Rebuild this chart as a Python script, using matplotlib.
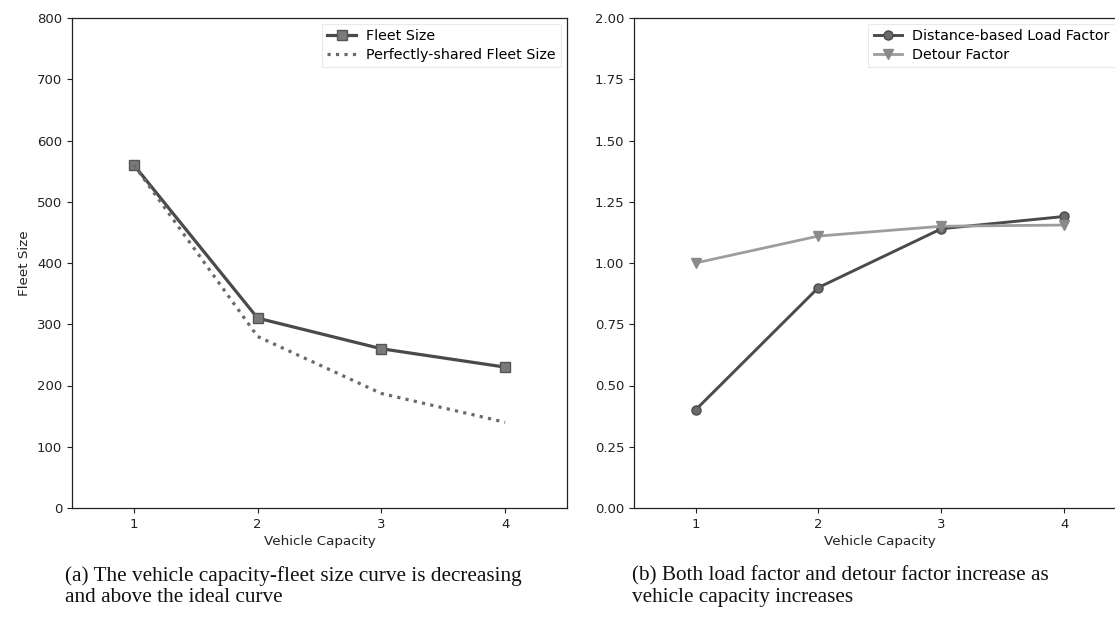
import matplotlib
matplotlib.use("Agg")
import matplotlib.pyplot as plt

# vehicle capacity on the x axis of both panels
capacity = [1, 2, 3, 4]

# (a) fleet size vs capacity
fleet_size = [560, 310, 260, 230]
ideal_fleet_size = [560, 280, 187, 140]

# (b) load and detour factors vs capacity
load_factor = [0.40, 0.90, 1.14, 1.19]
detour_factor = [1.00, 1.11, 1.15, 1.155]

captions = [
    "(a) The vehicle capacity-fleet size curve is decreasing\nand above the ideal curve",
    "(b) Both load factor and detour factor increase as\nvehicle capacity increases",
]

W, H = 1115, 628
fig = plt.figure(figsize=(W / 100, H / 100), dpi=100)
plt.rcParams["font.family"] = "DejaVu Sans"


def px_axes(x0, x1, y0, y1):
    return fig.add_axes([x0 / W, 1 - y1 / H, (x1 - x0) / W, (y1 - y0) / H])


def style(ax):
    for s in ax.spines.values():
        s.set_linewidth(0.9)
        s.set_color("#222")
    ax.tick_params(labelsize=9.5, length=3.5, width=0.8, colors="#222")
    ax.set_xlim(0.5, 4.5)
    ax.set_xticks(capacity)
    ax.set_xlabel("Vehicle Capacity", fontsize=9.7, color="#222", labelpad=3)


def legend(ax, **kw):
    leg = ax.legend(loc="upper right", fontsize=10.3, frameon=True,
                    fancybox=False, handlelength=2.0, borderaxespad=0.4,
                    handletextpad=0.7, labelspacing=0.3, **kw)
    leg.get_frame().set_edgecolor("#e4e4e4")
    leg.get_frame().set_linewidth(0.8)


ax1 = px_axes(72, 567, 18, 508)
ax1.plot(capacity, fleet_size, color="#4a4a4a", lw=2.3, marker="s", ms=7.5,
         mfc="#7a7a7a", mec="#555", label="Fleet Size")
ax1.plot(capacity, ideal_fleet_size, color="#6a6a6a", lw=2.3, ls=":",
         label="Perfectly-shared Fleet Size")
ax1.set_ylim(0, 800)
ax1.set_yticks(range(0, 801, 100))
ax1.set_ylabel("Fleet Size", fontsize=9.7, color="#222")
style(ax1)
legend(ax1)

ax2 = px_axes(634, 1126, 18, 508)
ax2.plot(capacity, load_factor, color="#4a4a4a", lw=2.1, marker="o", ms=6.5,
         mfc="#6a6a6a", mec="#4a4a4a", label="Distance-based Load Factor")
ax2.plot(capacity, detour_factor, color="#9d9d9d", lw=2.0, marker="v", ms=6.5,
         mfc="#8a8a8a", mec="#8a8a8a", label="Detour Factor")
ax2.set_ylim(0, 2.0)
ax2.set_yticks([0, 0.25, 0.5, 0.75, 1.0, 1.25, 1.5, 1.75, 2.0])
ax2.set_yticklabels([f"{v:.2f}" for v in ax2.get_yticks()])
style(ax2)
legend(ax2, bbox_to_anchor=(0.99, 1.0))

for x, text in zip([65, 632], captions):
    fig.text(x / W, 1 - 566 / H, text, fontsize=15.3, va="top", ha="left",
             family="Liberation Serif", linespacing=1.15, color="#111")

fig.savefig("out.png", dpi=100)
